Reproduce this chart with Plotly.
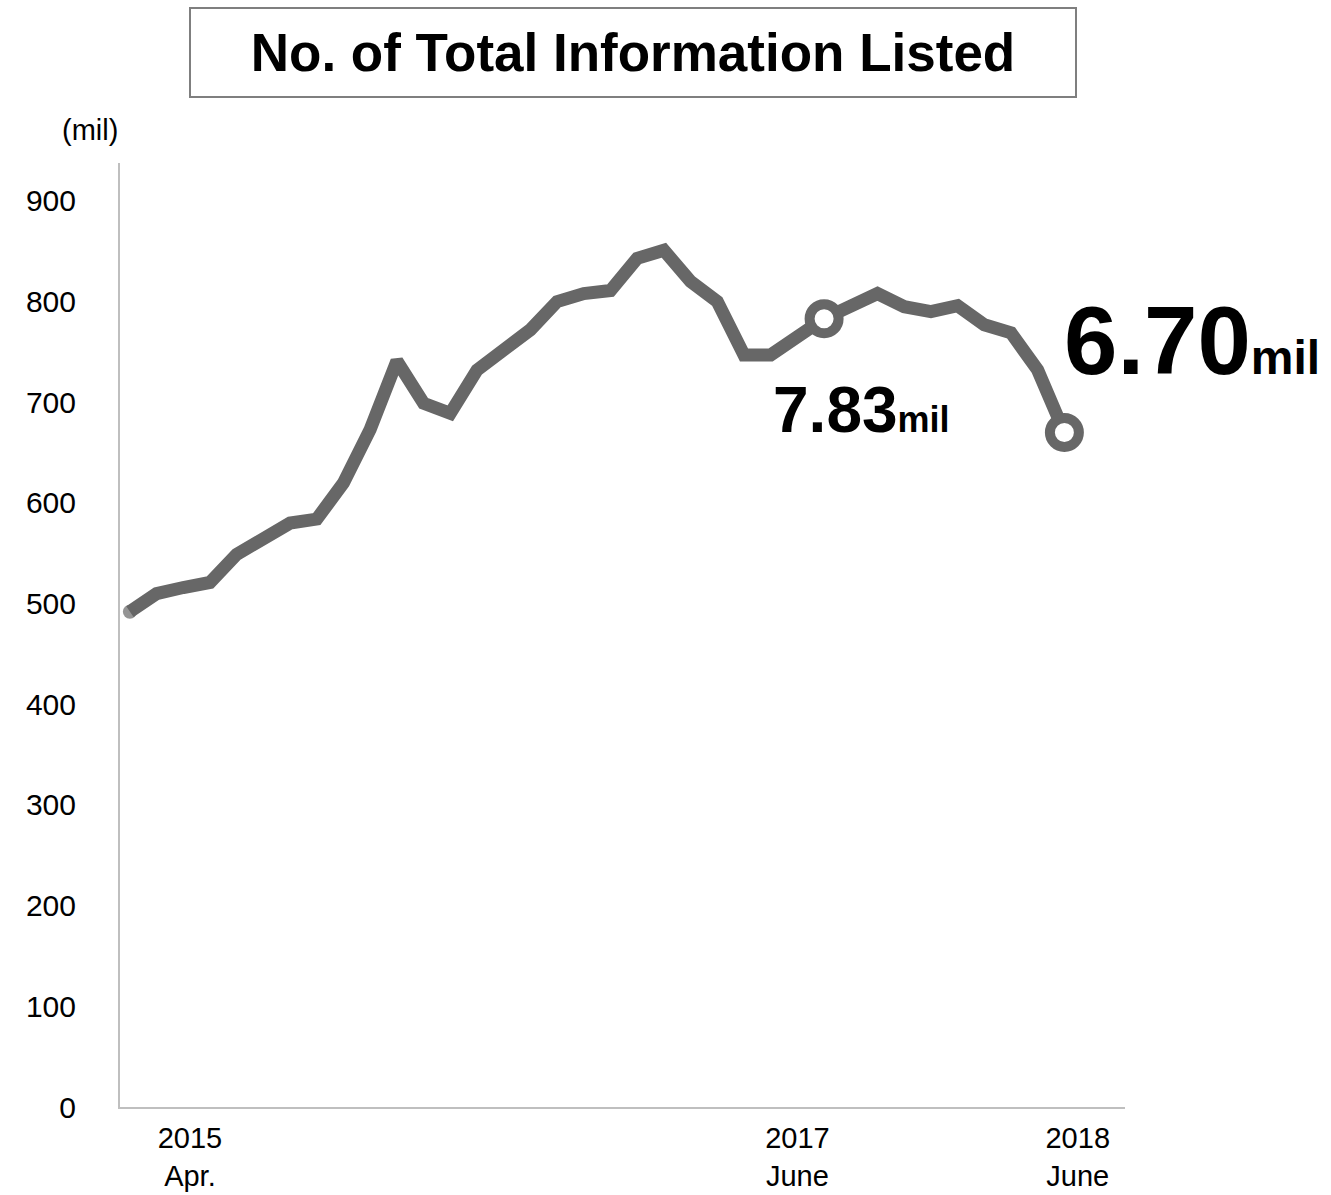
import plotly.graph_objects as go

# Monthly index counted from April 2015, and listing totals (unit: 10k listings)
month_idx = list(range(25)) + [26, 28, 29, 30, 31, 32, 33, 34, 35]
listed = [492, 510, 516, 521, 549, 564, 580, 584, 620, 673,
          741, 699, 689, 732, 751, 772, 800, 808, 811, 843,
          851, 820, 800, 747, 747, 783, 808, 795, 790, 796,
          777, 769, 732, 670]

# Category labels shown under the time axis
tick_pos = [2.25, 25.0, 35.5]
tick_text = ["2015<br>Apr.", "2017<br>June", "2018<br>June"]
y_ticks = list(range(0, 1000, 100))

# Points called out with a ring and a value label
highlight_idx = [26, 35]
highlight_val = [listed[month_idx.index(i)] for i in highlight_idx]

FONT = "Liberation Sans, Arial, sans-serif"
LINE_GREY = "#676767"

fig = go.Figure()

fig.add_trace(go.Scatter(
    x=month_idx, y=listed, mode="lines+markers",
    line=dict(color=LINE_GREY, width=13),
    marker=dict(size=[14] + [0] * (len(listed) - 1), color=LINE_GREY,
                line=dict(width=0)),
    hoverinfo="skip", showlegend=False,
))

fig.add_trace(go.Scatter(
    x=highlight_idx, y=highlight_val, mode="markers",
    marker=dict(symbol="circle", size=29, color="white",
                line=dict(color=LINE_GREY, width=10)),
    hoverinfo="skip", showlegend=False,
))

# Value call-outs: big figure plus small "mil" unit
label_specs = [
    (64, 36, 37, -91),
    (96, 48, 128, 92),
]
for (xi, v), (big, small, dx, dy) in zip(zip(highlight_idx, highlight_val), label_specs):
    fig.add_annotation(
        x=xi, y=v, xref="x", yref="y", showarrow=False,
        text=f"<b>{v / 100:.2f}<span style='font-size:{small}px'>mil</span></b>",
        font=dict(family=FONT, size=big, color="black"),
        xanchor="center", yanchor="middle", xshift=dx, yshift=dy,
    )

# Boxed headline
fig.add_annotation(
    xref="paper", yref="paper", x=0.5104, y=1.117,
    xanchor="center", yanchor="middle", showarrow=False,
    text="<b>No. of Total Information Listed</b>",
    font=dict(family=FONT, size=53, color="black"),
    width=884, height=87, borderpad=0, borderwidth=2,
    bordercolor="#7f7f7f", bgcolor="white",
)

# Unit caption above the value axis
fig.add_annotation(
    xref="paper", yref="paper", x=-0.03, y=1.035,
    xanchor="center", yanchor="middle", showarrow=False,
    text="(mil)", font=dict(family=FONT, size=29, color="black"),
)

fig.update_layout(
    width=1331, height=1195,
    margin=dict(l=120, r=206, t=163, b=88),
    paper_bgcolor="white", plot_bgcolor="white",
    font=dict(family=FONT, size=29, color="black"),
    xaxis=dict(
        range=[-0.37, 37.27], showline=True, linecolor="#BFBFBF", linewidth=2,
        tickmode="array", tickvals=tick_pos, ticktext=tick_text,
        ticks="", showgrid=False, zeroline=False, automargin=False,
        tickfont=dict(family=FONT, size=29, color="black"),
        ticklabelstandoff=4,
    ),
    yaxis=dict(
        range=[0, 937.7], showline=True, linecolor="#BFBFBF", linewidth=2,
        tickmode="array", tickvals=y_ticks,
        ticks="", showgrid=False, zeroline=False, automargin=False,
        tickfont=dict(family=FONT, size=30, color="black"),
        ticklabelstandoff=36,
    ),
)

fig.write_html("out.html")
